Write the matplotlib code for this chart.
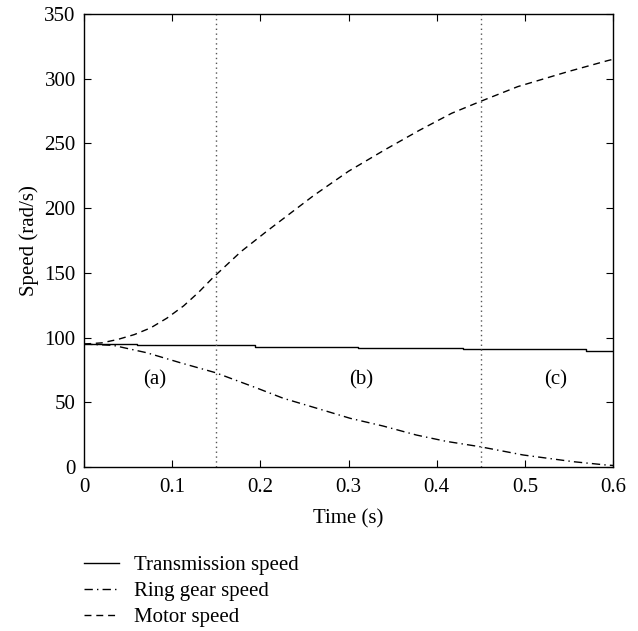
import matplotlib
matplotlib.use("Agg")
import matplotlib.pyplot as plt

# transmission speed (piecewise constant)
trans_t = [0.0, 0.06, 0.194, 0.311, 0.43, 0.569, 0.6]
trans_v = [95.3, 94.5, 93.0, 91.7, 90.9, 89.6, 89.6]

# ring gear speed
ring_t = [0.0, 0.033, 0.071, 0.109, 0.149, 0.196, 0.226, 0.264, 0.302,
          0.339, 0.377, 0.411, 0.449, 0.498, 0.555, 0.593, 0.6]
ring_v = [95.0, 94.0, 88.3, 80.6, 72.9, 61.0, 53.1, 45.4, 37.6,
          31.7, 24.7, 19.8, 15.7, 9.3, 4.1, 1.5, 1.2]

# motor speed
motor_t = [0.0, 0.02, 0.038, 0.057, 0.0756, 0.094, 0.113, 0.13, 0.1455, 0.178,
           0.207, 0.26, 0.3, 0.341, 0.38, 0.417, 0.449, 0.492, 0.549, 0.594, 0.6]
motor_v = [95.0, 95.9, 98.5, 102.3, 107.5, 115.0, 124.5, 135.0, 145.8, 166.4,
           182.0, 209.5, 228.5, 245.0, 260.0, 273.3, 282.3, 293.9, 305.5, 314.0, 315.0]

phase_bounds = [0.15, 0.45]
phase_labels = ["(a)", "(b)", "(c)"]
phase_label_t = [0.080, 0.314, 0.535]
phase_label_v = 67

plt.rcParams.update({
    "font.family": "Liberation Serif",
    "font.size": 15,
    "axes.linewidth": 1.0,
    "xtick.direction": "in",
    "ytick.direction": "in",
    "xtick.top": True,
    "ytick.right": True,
    "xtick.major.size": 5,
    "ytick.major.size": 5,
})

fig = plt.figure(figsize=(6.38, 6.31), dpi=100)
ax = fig.add_axes([0.1317, 0.2599, 0.8291, 0.7179])

ax.plot(trans_t, trans_v, color="black", linewidth=1.0, drawstyle="steps-post",
        label="Transmission speed")
ax.plot(ring_t, ring_v, color="black", linewidth=1.0,
        linestyle=(0, (6, 3, 1, 3)), label="Ring gear speed")
ax.plot(motor_t, motor_v, color="black", linewidth=1.0,
        linestyle=(0, (5, 3.5)), label="Motor speed")

for b in phase_bounds:
    ax.axvline(b, color="#555555", linewidth=1.0, linestyle=(0, (1, 2.5)))

for lab, t in zip(phase_labels, phase_label_t):
    ax.text(t, phase_label_v, lab, ha="center", va="center")

ax.set_xlim(0, 0.6)
ax.set_ylim(0, 350)
ax.set_xticks([0, 0.1, 0.2, 0.3, 0.4, 0.5, 0.6])
ax.set_xticklabels(["0", "0.1", "0.2", "0.3", "0.4", "0.5", "0.6"])
ax.set_yticks(range(0, 351, 50))
ax.tick_params(axis="x", pad=8)
ax.tick_params(axis="y", pad=6)
ax.set_xlabel("Time (s)", labelpad=9)
ax.set_ylabel("Speed (rad/s)", labelpad=4)

ax.legend(loc="upper left", bbox_to_anchor=(0.0, -0.196), frameon=False,
          handlelength=1.7, handletextpad=0.7, labelspacing=0.3,
          borderaxespad=0, borderpad=0)

fig.savefig("out.png", dpi=100)
